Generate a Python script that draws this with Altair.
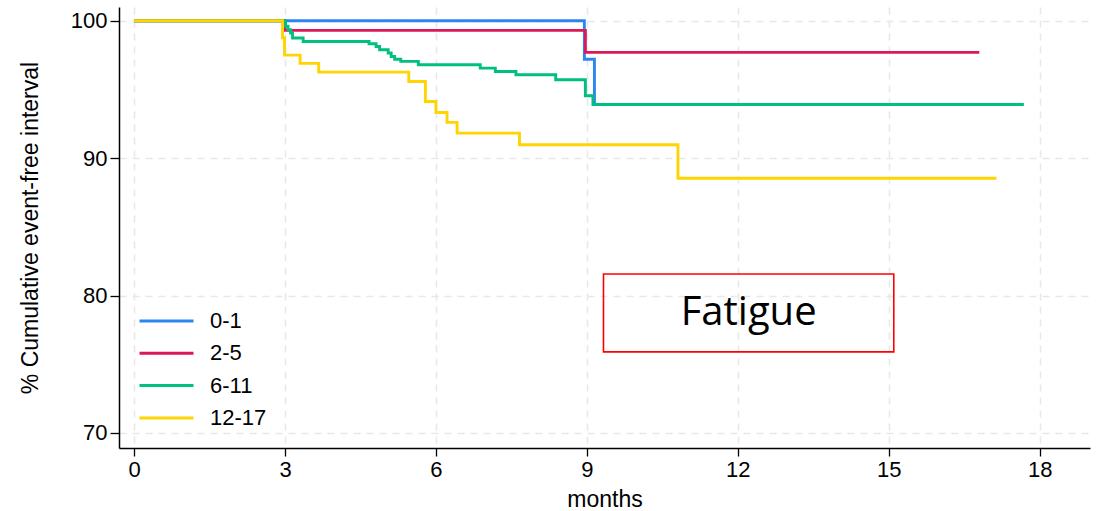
import altair as alt
import pandas as pd

# ---- data ----
groups = ["0-1", "2-5", "6-11", "12-17"]
colors = ["#2a87f0", "#dc1859", "#00c07f", "#ffd400"]

t_01 = [0, 8.95, 9.15, 17.68]
s_01 = [100, 97.2, 93.9, 93.9]

t_25 = [0, 3.0, 8.97, 16.8]
s_25 = [100, 99.3, 97.7, 97.7]

t_611 = [0, 3.01, 3.06, 3.11, 3.15, 3.36, 4.67, 4.81, 4.88, 5.05, 5.11,
         5.18, 5.3, 5.65, 6.88, 7.18, 7.59, 8.38, 8.97, 9.12, 17.68]
s_611 = [100, 99.6, 99.34, 99.1, 98.74, 98.49, 98.32, 98.13, 97.89, 97.65, 97.4,
         97.2, 97.04, 96.8, 96.55, 96.31, 96.07, 95.7, 94.54, 93.9, 93.9]

t_1217 = [0, 2.95, 2.99, 3.3, 3.67, 5.46, 5.79, 6.0, 6.22, 6.42, 7.66, 10.81, 17.14]
s_1217 = [100, 98.76, 97.5, 96.9, 96.26, 95.58, 94.12, 93.32, 92.6, 91.82, 90.97, 88.54, 88.54]

x_ticks = [0, 3, 6, 9, 12, 15, 18]
y_ticks = [70, 80, 90, 100]

box_label = "Fatigue"
box_x = [9.33, 15.1]
box_y = [75.9, 81.57]

# ---- build table ----
rows = []
for g, ts, ss in zip(groups, [t_01, t_25, t_611, t_1217], [s_01, s_25, s_611, s_1217]):
    for i, (t, s) in enumerate(zip(ts, ss)):
        rows.append({"group": g, "t": t, "s": s, "order": i})
df = pd.DataFrame(rows)

font = "Liberation Sans"
xscale = alt.Scale(domain=[-0.3, 19], nice=False, zero=False)
yscale = alt.Scale(domain=[68.9, 101], nice=False, zero=False)

lines = alt.Chart(df).mark_line(interpolate="step-after", strokeWidth=2.9).encode(
    x=alt.X("t:Q", scale=xscale,
            axis=alt.Axis(values=x_ticks, title="months", grid=True,
                          gridDash=[7, 6], gridColor="#e8e8e8", gridWidth=1.5,
                          domainColor="black", domainWidth=1.5,
                          tickColor="black", tickWidth=1.3, tickSize=8,
                          labelFontSize=22, labelFont=font, labelColor="black",
                          labelPadding=3, titleFontSize=23, titleFont=font,
                          titleFontWeight="normal", titleColor="black", titlePadding=8)),
    y=alt.Y("s:Q", scale=yscale,
            axis=alt.Axis(values=y_ticks, title="% Cumulative event-free interval", grid=True,
                          gridDash=[7, 6], gridColor="#e8e8e8", gridWidth=1.5,
                          domainColor="black", domainWidth=1.5,
                          tickColor="black", tickWidth=1.3, tickSize=9,
                          labelFontSize=22, labelFont=font, labelColor="black",
                          labelPadding=3, titleFontSize=23, titleFont=font,
                          titleFontWeight="normal", titleColor="black", titlePadding=28)),
    color=alt.Color("group:N", scale=alt.Scale(domain=groups, range=colors),
                    legend=alt.Legend(title=None, orient="none", legendX=19, legendY=303,
                                      symbolType="stroke", symbolSize=2916,
                                      symbolStrokeWidth=3, labelFontSize=22,
                                      labelFont=font, labelColor="black",
                                      labelOffset=15, clipHeight=22, rowPadding=10.3,
                                      padding=0)),
    order="order:Q",
)

box_df = pd.DataFrame({"x": [box_x[0]], "x2": [box_x[1]], "y": [box_y[0]],
                       "y2": [box_y[1]], "label": [box_label],
                       "xc": [(box_x[0] + box_x[1]) / 2], "yc": [(box_y[0] + box_y[1]) / 2]})

box = alt.Chart(box_df).mark_rect(fill=None, fillOpacity=0, stroke="#ff0000", strokeWidth=1.6).encode(
    x=alt.X("x:Q", scale=xscale), x2="x2:Q",
    y=alt.Y("y:Q", scale=yscale), y2="y2:Q",
)
box_text = alt.Chart(box_df).mark_text(font="Open Sans", fontSize=40, color="black",
                                       align="center", baseline="middle").encode(
    x=alt.X("xc:Q", scale=xscale), y=alt.Y("yc:Q", scale=yscale), text="label:N"
)

chart = alt.layer(lines, box, box_text).properties(
    width=971, height=441,
    autosize=alt.AutoSizeParams(type="none"),
    padding={"left": 119, "top": 7, "right": 9, "bottom": 63},
    background="white",
).configure_view(stroke=None)

chart.save("out.html", embed_options={"renderer": "svg", "actions": False})
